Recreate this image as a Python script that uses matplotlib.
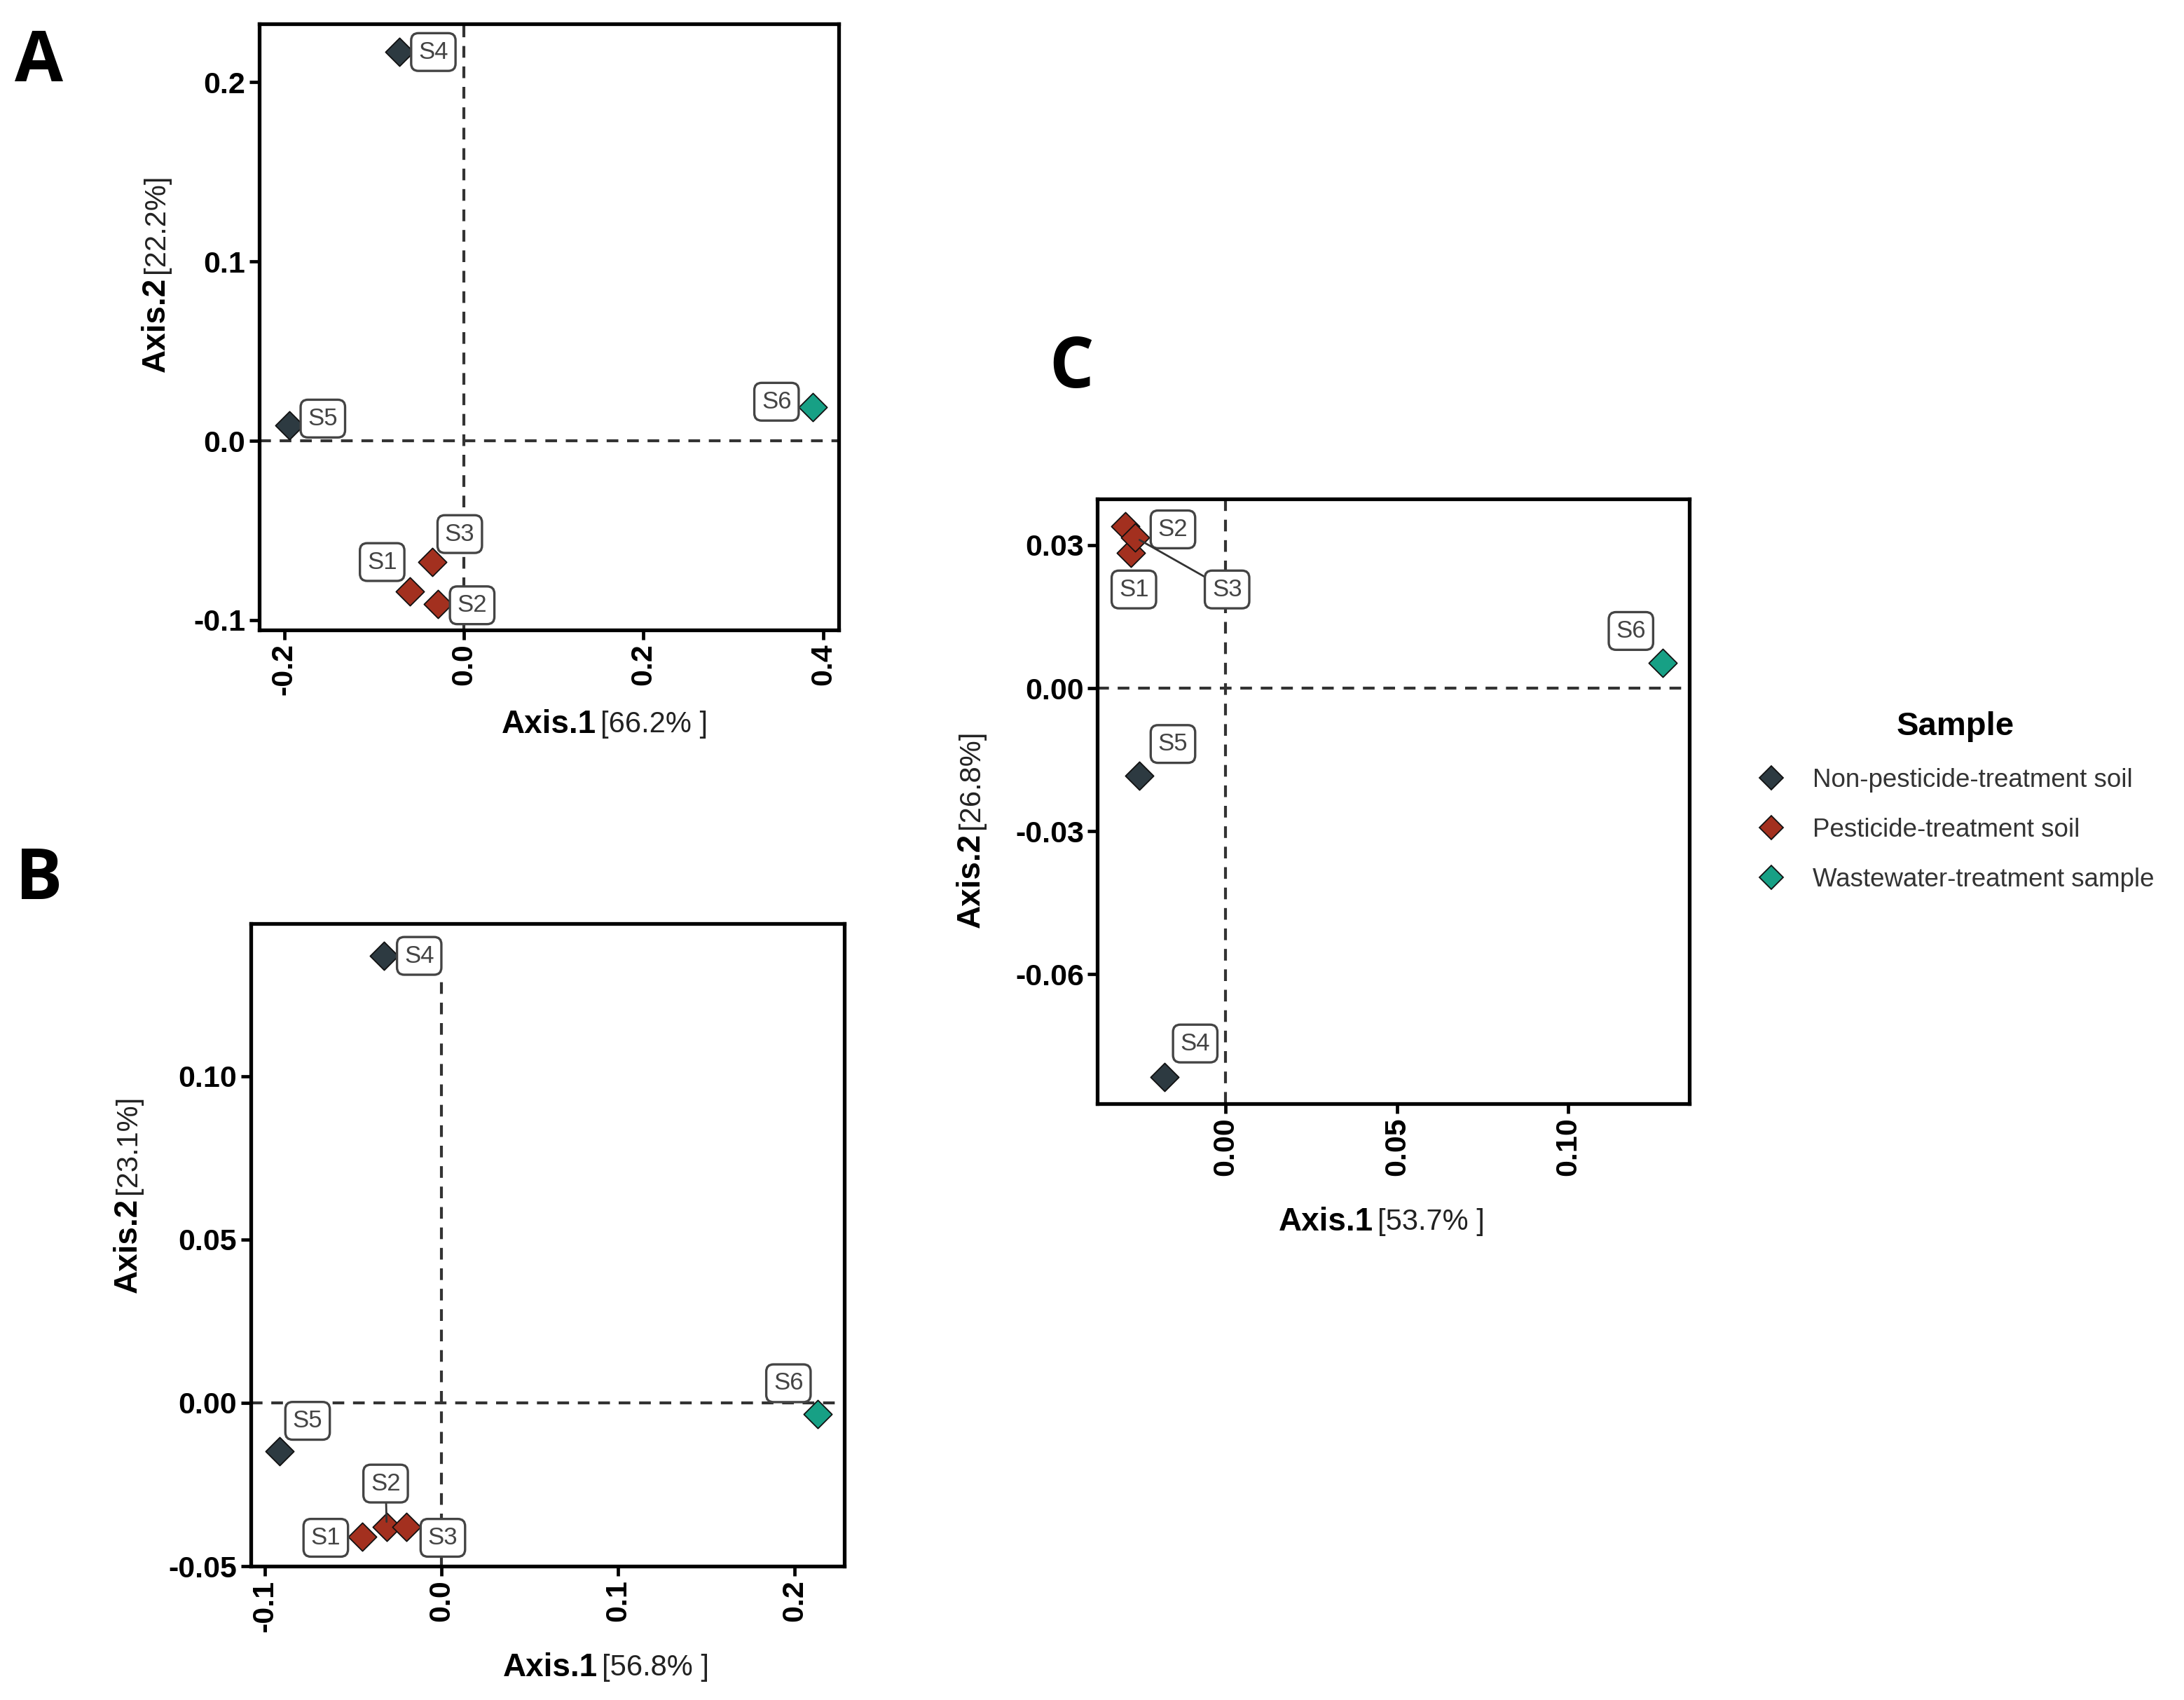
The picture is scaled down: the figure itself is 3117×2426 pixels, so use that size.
import matplotlib
matplotlib.use("Agg")
import matplotlib.pyplot as plt
from matplotlib.lines import Line2D

plt.rcParams['font.family'] = ['Liberation Sans', 'DejaVu Sans']

# sample data
samples = ['S1', 'S2', 'S3', 'S4', 'S5', 'S6']
groups = ['Pesticide-treatment soil', 'Pesticide-treatment soil', 'Pesticide-treatment soil',
          'Non-pesticide-treatment soil', 'Non-pesticide-treatment soil',
          'Wastewater-treatment sample']
group_order = ['Non-pesticide-treatment soil', 'Pesticide-treatment soil',
               'Wastewater-treatment sample']
group_colors = {'Non-pesticide-treatment soil': '#2D3A41',
                'Pesticide-treatment soil': '#A3301F',
                'Wastewater-treatment sample': '#17A085'}

# panel A
a_x = [-0.060, -0.029, -0.035, -0.072, -0.194, 0.388]
a_y = [-0.084, -0.091, -0.0676, 0.217, 0.0085, 0.0186]
a_lab_x = [-0.091, 0.0092, -0.0046, -0.034, -0.157, 0.348]
a_lab_y = [-0.0676, -0.0917, -0.052, 0.2168, 0.0124, 0.0218]
a_xticks = [-0.2, 0.0, 0.2, 0.4]
a_yticks = [-0.1, 0.0, 0.1, 0.2]

# panel B
b_x = [-0.045, -0.031, -0.020, -0.0324, -0.0916, 0.213]
b_y = [-0.0409, -0.0379, -0.0379, 0.1368, -0.0149, -0.0034]
b_lab_x = [-0.0655, -0.0316, 0.0008, -0.0126, -0.0758, 0.1965]
b_lab_y = [-0.0413, -0.0247, -0.0413, 0.1368, -0.0055, 0.006]
b_xticks = [-0.1, 0.0, 0.1, 0.2]
b_yticks = [-0.05, 0.00, 0.05, 0.10]

# panel C
c_x = [-0.0276, -0.0293, -0.0264, -0.0179, -0.0252, 0.1276]
c_y = [0.0283, 0.0339, 0.0316, -0.0815, -0.0184, 0.0053]
c_lab_x = [-0.0268, -0.0154, 0.0004, -0.0089, -0.0154, 0.1183]
c_lab_y = [0.0207, 0.0333, 0.0207, -0.0745, -0.0117, 0.012]
c_xticks = [0.00, 0.05, 0.10]
c_yticks = [-0.06, -0.03, 0.00, 0.03]

W, H = 1568.0, 1220.0   # layout measured on a half-size copy


def fx(x):
    return x / W


def fy(y):
    return 1 - y / H


fig = plt.figure(figsize=(31.17, 24.26), dpi=100)


def panel(box, xs, ys, lab_x, lab_y, xlim, ylim, xticks, yticks, xfmt, yfmt, lines, vmax=1.0):
    left, top, right, bottom = box
    ax = fig.add_axes([fx(left), fy(bottom), fx(right) - fx(left), fy(top) - fy(bottom)])
    ax.axhline(0, color='#333333', lw=3.0, ls=(0, (4, 3)), zorder=1)
    ax.axvline(0, color='#333333', lw=3.0, ls=(0, (4, 3)), ymax=vmax, zorder=1)
    for i, s in enumerate(samples):
        ax.scatter(xs[i], ys[i], marker='D', s=420, c=group_colors[groups[i]],
                   edgecolors='#111111', linewidths=1.3, zorder=3)
        arrow = dict(arrowstyle='-', color='#333333', lw=2.0, shrinkA=0, shrinkB=5) if s in lines else None
        ax.annotate(s, xy=(xs[i], ys[i]), xytext=(lab_x[i], lab_y[i]),
                    ha='center', va='center', fontsize=25, color='#444444', zorder=4,
                    bbox=dict(boxstyle='round,pad=0.3,rounding_size=0.3', fc='white',
                              ec='#444444', lw=2.4),
                    arrowprops=arrow)
    ax.set_xlim(xlim)
    ax.set_ylim(ylim)
    ax.set_xticks(xticks)
    ax.set_yticks(yticks)
    ax.set_xticklabels([xfmt % v for v in xticks], rotation=90, fontweight='bold', fontsize=31)
    ax.set_yticklabels([yfmt % v for v in yticks], fontweight='bold', fontsize=31)
    ax.tick_params(length=10, width=3.4, pad=4, colors='black')
    for sp in ax.spines.values():
        sp.set_linewidth(3.8)
    return ax


panel((186, 17, 602, 452), a_x, a_y, a_lab_x, a_lab_y, (-0.228, 0.417), (-0.1054, 0.2326),
      a_xticks, a_yticks, '%.1f', '%.1f', [])
panel((180, 663, 606, 1124), b_x, b_y, b_lab_x, b_lab_y, (-0.108, 0.228), (-0.05, 0.1466),
      b_xticks, b_yticks, '%.1f', '%.2f', ['S2'], vmax=0.92)
panel((788, 358, 1213, 792), c_x, c_y, c_lab_x, c_lab_y, (-0.0374, 0.1354), (-0.0871, 0.0397),
      c_xticks, c_yticks, '%.2f', '%.2f', ['S3'])

# axis titles: bold name plus bracket
axis_titles = [
    ((428, 520), '66.2%', (112, 197), '22.2%'),
    ((429, 1197), '56.8%', (92, 858), '23.1%'),
    ((986, 877), '53.7%', (697, 596), '26.8%'),
]
for (xx, xy), xp, (yx, yy), yp in axis_titles:
    fig.text(fx(xx), fy(xy), 'Axis.1', ha='right', va='center', fontsize=33, fontweight='bold')
    fig.text(fx(xx + 3), fy(xy), '[' + xp + ' ]', ha='left', va='center', fontsize=30,
             color='#222222')
    fig.text(fx(yx), fy(yy + 2), 'Axis.2', ha='center', va='top', rotation=90,
             fontsize=33, fontweight='bold')
    fig.text(fx(yx), fy(yy - 1), '[' + yp + ']', ha='center', va='bottom', rotation=90,
             fontsize=30, color='#222222')

# panel letters
for letter, (px, py) in zip(['A', 'B', 'C'], [(28, 45), (28, 632), (769, 265)]):
    fig.text(fx(px), fy(py), letter, ha='center', va='center', fontsize=72,
             fontweight='bold', family=['Open Sans', 'DejaVu Sans'])

# legend
handles = [Line2D([], [], ls='none', marker='D', markersize=17, markerfacecolor=group_colors[g],
                  markeredgecolor='#111111', markeredgewidth=1.3) for g in group_order]
leg = fig.legend(handles, group_order, title='Sample', loc='upper left',
                 bbox_to_anchor=(fx(1244), fy(494)), frameon=False, fontsize=26.5,
                 title_fontsize=34, labelspacing=0.98, handletextpad=1.0, handlelength=1.2,
                 labelcolor='#333333')
leg.get_title().set_fontweight('bold')

fig.savefig('out.png', dpi=100)
